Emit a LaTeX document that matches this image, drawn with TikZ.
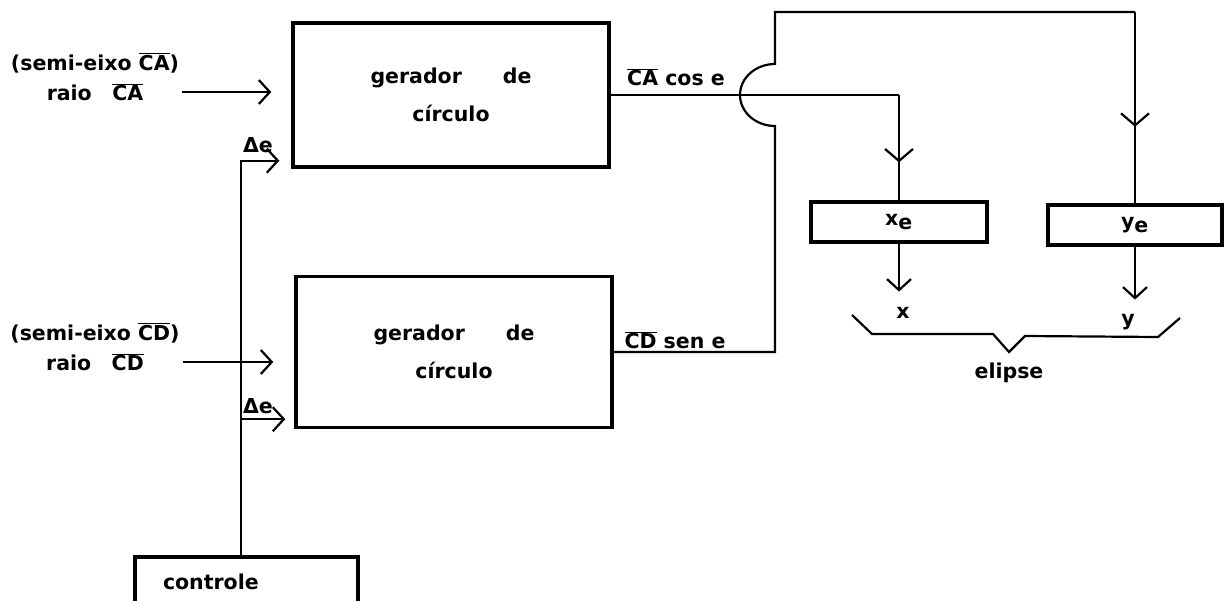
\documentclass[tikz,border=0pt]{standalone}
\usepackage{fontspec}
\setmainfont{DejaVu Sans}
\usepackage{tikz}
\usetikzlibrary{arrows.meta,positioning,calc,decorations.markings}

\begin{document}
\begin{tikzpicture}[x=1pt,y=-1pt,
    every node/.style={font=\fontsize{20.5}{24}\selectfont\bfseries},
    box/.style={draw, line width=3.4pt, inner sep=0pt},
    lbl/.style={inner sep=2pt},
    arr/.style={line width=2.2pt, -{Straight Barb[length=11pt,width=24pt]}},
    wire/.style={line width=2.2pt},
    midarr/.style={wire, decoration={markings, mark=at position #1 with {\arrow{Straight Barb[length=12pt,width=28pt]}}}, postaction={decorate}}]
    \useasboundingbox (0,0) rectangle (1225,601);

    \node[box, minimum width=316pt, minimum height=144pt, align=center] (gen1) at (451,95) {gerador\quad\quad de\\[14pt]círculo};
    \node[box, minimum width=316pt, minimum height=151pt, align=center] (gen2) at (454,352) {gerador\quad\quad de\\[14pt]círculo};
    \node[box, minimum width=176pt, minimum height=40pt] (xe) at (899,222) {x$_{\hbox{e}}$};
    \node[box, minimum width=174pt, minimum height=40pt] (ye) at (1135,225) {y$_{\hbox{e}}$};
    \node[box, minimum width=223pt, minimum height=50pt, text width=167pt, inner xsep=28pt, align=left] (ctrl) at (246.5,582) {controle};

    \node[lbl] (semiA) at (95,63) {(semi-eixo $\overline{\hbox{CA}}$)};
    \node[lbl] (raioA) at (95,92) {raio\quad $\overline{\hbox{CA}}$};
    \node[lbl] (semiD) at (95,333) {(semi-eixo $\overline{\hbox{CD}}$)};
    \node[lbl] (raioD) at (95,362) {raio\quad $\overline{\hbox{CD}}$};
    \node[lbl] (dA) at (258,145) {Δe};
    \node[lbl] (dD) at (258,406) {Δe};
    \node[lbl] (cosA) at (676,77) {$\overline{\hbox{CA}}$ cos e};
    \node[lbl] (senD) at (675,340) {$\overline{\hbox{CD}}$ sen e};
    \node[lbl, anchor=base] (xlbl) at (903,319) {x};
    \node[lbl, anchor=base] (ylbl) at (1128,325) {y};
    \node[lbl] (elipse) at (1009,373) {elipse};

    \draw[arr, shorten >=20pt] ([xshift=37pt]raioA.east) -- (raioA.east -| gen1.west);
    \draw[arr, shorten >=21pt] ([xshift=37pt]raioD.east) -- (raioD.east -| gen2.west);

    \coordinate (bus) at ([xshift=-5.5pt]ctrl.north);
    \draw[arr, shorten >=12pt] (bus) |- ([yshift=8pt]gen1.south west);
    \draw[arr, shorten >=9pt] (bus) |- ([yshift=10pt]gen2.south west);

    \coordinate (turnA) at (gen1.east -| xe.north);
    \draw[wire] (gen1.east) -- (turnA);
    \draw[midarr=0.64] (turnA) -- (xe.north);

    \coordinate (turnD) at (775,352);
    \coordinate (hop) at (gen1.east -| turnD);
    \coordinate (topD) at (775,12);
    \coordinate (topY) at (ye.north |- topD);
    \draw[wire] (gen2.east) -- (turnD) -- ([yshift=-31pt]hop) arc[start angle=270, end angle=90, x radius=35pt, y radius=31pt] -- (topD) -- (topY);
    \draw[midarr=0.6] (topY) -- (ye.north);

    \draw[arr, shorten >=14pt] (xe.south) -- (xe.south |- xlbl.north);
    \draw[arr, shorten >=12pt] (ye.south) -- (ye.south |- ylbl.north);

    \draw[wire] (852,315) -- (872,334) -- (993,334) -- (1009,352) -- (1025,336) -- (1158,337) -- (1180,318);
\end{tikzpicture}
\end{document}
